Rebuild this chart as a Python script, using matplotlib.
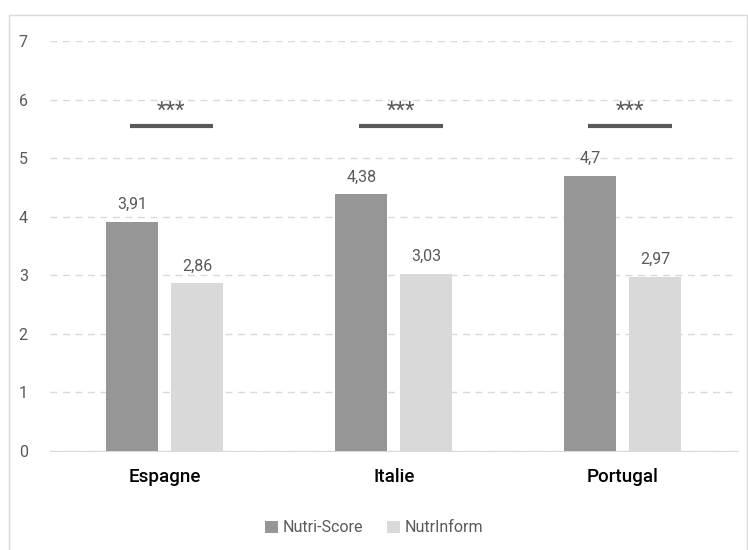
import numpy as np
import matplotlib.pyplot as plt
from matplotlib.patches import Rectangle

plt.rcParams['font.family'] = ['Roboto', 'DejaVu Sans']

# data
countries = ["Espagne", "Italie", "Portugal"]
nutri_score = [3.91, 4.38, 4.7]
nutrinform = [2.86, 3.03, 2.97]
series_names = ["Nutri-Score", "NutrInform"]
signif = ["***", "***", "***"]

fig = plt.figure(figsize=(7.48, 5.5), dpi=100)
ax = fig.add_axes([50 / 748, 1 - 451 / 550, 687.5 / 748, 410 / 550])

# outer frame
fig.patches.append(Rectangle((9 / 748, -0.01), 0.999 - 9 / 748, 1 - 15 / 550 + 0.01,
                             transform=fig.transFigure, fill=False,
                             edgecolor='#d9d9d9', linewidth=1))

x = np.arange(len(countries))
w = 0.227
off = 0.142
b1 = ax.bar(x - off, nutri_score, w, color='#969696', label=series_names[0], zorder=3)
b2 = ax.bar(x + off, nutrinform, w, color='#d9d9d9', label=series_names[1], zorder=3)

for bars, vals in [(b1, nutri_score), (b2, nutrinform)]:
    for r, v in zip(bars, vals):
        ax.annotate(str(v).replace('.', ','), (r.get_x() + r.get_width() / 2, v),
                    textcoords="offset points", xytext=(0, 7), ha='center',
                    va='bottom', fontsize=11.5, color='#595959')

# significance bars
for xi, s in zip(x, signif):
    ax.plot([xi - 0.153, xi + 0.213], [5.55, 5.55], color='#595959', lw=3,
            solid_capstyle='butt', zorder=4)
    ax.text(xi + 0.03, 5.62, s, ha='center', va='bottom', fontsize=16, color='#595959')

ax.set_xlim(-0.5, 2.5)
ax.set_ylim(0, 7)
ax.set_yticks(range(0, 8))
ax.yaxis.grid(True, linestyle=(0, (5, 4)), color='#d9d9d9', linewidth=1)
ax.set_axisbelow(True)
for sp in ['top', 'right', 'left']:
    ax.spines[sp].set_visible(False)
ax.spines['bottom'].set_color('#d9d9d9')
ax.tick_params(axis='y', length=0, pad=16, labelsize=11.5, labelcolor='#595959')
ax.tick_params(axis='x', length=0, pad=12)
ax.set_xticks(x)
ax.set_xticklabels(countries, fontsize=13.5, fontweight='medium', color='black')

fig.legend(loc='center', bbox_to_anchor=(0.5, 1 - 528 / 550), ncol=2, frameon=False,
           handlelength=0.8, handleheight=0.8, handletextpad=0.3, columnspacing=1.5,
           fontsize=11.5, labelcolor='#595959')

fig.savefig("out.png", dpi=100)
